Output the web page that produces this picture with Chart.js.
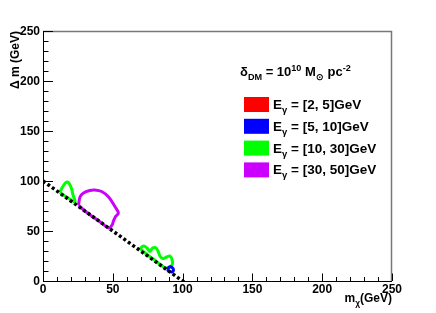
<!DOCTYPE html>
<html>
<head>
<meta charset="utf-8">
<script src="https://cdn.jsdelivr.net/npm/chart.js@4"></script>
<style>
  html, body { margin: 0; padding: 0; background: #fff; }
  #wrap { width: 436px; height: 313px; }
</style>
</head>
<body>
<div id="wrap"><canvas id="c" width="436" height="313"></canvas></div>
<script>
// axis ranges / ticks
const xMajor = [0, 50, 100, 150, 200, 250]
const yMajor = [0, 50, 100, 150, 200, 250]
const minorStep = 10

// kinematic limit m_chi + dm = 100
const limitX = [0, 101]
const limitY = [100, -1]

// contours
const redX = []
const redY = []
const blueX = [89, 90.5, 92.5, 93.5, 92.5, 90.5, 89]
const blueY = [11.5, 14, 13.5, 11, 9, 9.5, 11.5]
const green1X = [12, 14, 16, 17.5, 19, 20.5, 21.5, 23, 18, 12]
const green1Y = [88.5, 94, 98, 99, 97, 92, 86, 79, 83, 88.5]
const green2X = [69.5, 72, 74.5, 76.5, 78.5, 81, 82.5, 84, 86, 88.5, 91, 92.5, 92.5, 88, 80, 74, 69.5]
const green2Y = [32.5, 35, 33, 29.5, 33, 33, 29.5, 24.5, 22.5, 24, 25, 21, 16, 13, 21, 27, 32.5]
const magX = [25.5, 26.5, 29, 33.5, 37, 42, 47, 51.5, 54, 52, 50.5, 49.5, 47, 42, 36, 30, 25.5]
const magY = [76, 84, 88, 90.5, 91, 89.5, 84, 74.5, 68, 64.5, 60, 56, 53, 58, 64, 70, 76]

const legendLabels = ['[2, 5]GeV', '[5, 10]GeV', '[10, 30]GeV', '[30, 50]GeV']
const legendColors = ['#ff0000', '#0000ff', '#00ff00', '#cc00ff']

const pts = (xs, ys) => xs.map((x, i) => ({ x, y: ys[i] }))

const contour = (xs, ys, color) => ({
  data: pts(xs, ys),
  showLine: true,
  borderColor: color,
  borderWidth: 3,
  pointRadius: 0,
  tension: 0.35,
  fill: false,
})

const FONT = '"Liberation Sans", Arial, sans-serif'

// draws runs of [text, 'n' | 'sub' | 'sup'] from x at baseline y
const drawRich = (ctx, runs, x, y, size) => {
  runs.forEach(([t, mode]) => {
    const s = mode === 'n' ? size : size * 0.7
    const dy = mode === 'sub' ? size * 0.3 : mode === 'sup' ? -size * 0.42 : 0
    ctx.font = `bold ${s}px ${FONT}`
    ctx.fillText(t, x, y + dy)
    x += ctx.measureText(t).width
  })
}

const rootFrame = {
  id: 'rootFrame',
  afterDatasetsDraw(chart) {
    const { ctx, chartArea: a, scales } = chart
    const sx = scales.x
    const sy = scales.y
    ctx.save()

    // frame
    ctx.strokeStyle = '#777'
    ctx.lineWidth = 1.5
    ctx.beginPath()
    ctx.moveTo(a.left, a.top + 0.5)
    ctx.lineTo(a.right - 0.5, a.top + 0.5)
    ctx.lineTo(a.right - 0.5, a.bottom)
    ctx.stroke()
    ctx.strokeStyle = '#000'
    ctx.lineWidth = 1
    ctx.beginPath()
    ctx.moveTo(a.left + 0.5, a.top)
    ctx.lineTo(a.left + 0.5, a.bottom + 0.5)
    ctx.lineTo(a.right, a.bottom + 0.5)
    ctx.stroke()

    // inward ticks
    ctx.beginPath()
    for (let v = 0; v <= 250; v += minorStep) {
      const major = v % 50 === 0
      const px = Math.round(sx.getPixelForValue(v)) + 0.5
      ctx.moveTo(px, a.bottom)
      ctx.lineTo(px, a.bottom - (major ? 7.5 : 4))
      const py = Math.round(sy.getPixelForValue(v)) + 0.5
      ctx.moveTo(a.left, py)
      ctx.lineTo(a.left + (major ? 10 : 5.5), py)
    }
    ctx.stroke()

    // tick labels
    ctx.fillStyle = '#000'
    ctx.font = `bold 12px ${FONT}`
    ctx.textAlign = 'center'
    ctx.textBaseline = 'alphabetic'
    xMajor.forEach((v) => ctx.fillText(String(v), sx.getPixelForValue(v), a.bottom + 12))
    ctx.textAlign = 'right'
    ctx.textBaseline = 'middle'
    yMajor.forEach((v) => ctx.fillText(String(v), a.left - 3, sy.getPixelForValue(v) + 1))

    // axis titles
    ctx.textBaseline = 'alphabetic'
    ctx.textAlign = 'left'
    const xt = [['m', 'n'], ['\u03c7', 'sub'], ['(GeV)', 'n']]
    let w = 0
    xt.forEach(([t, m]) => {
      ctx.font = `bold ${m === 'n' ? 12 : 8.4}px ${FONT}`
      w += ctx.measureText(t).width
    })
    drawRich(ctx, xt, a.right - w, 302, 12)

    ctx.save()
    ctx.translate(19, a.top)
    ctx.rotate(-Math.PI / 2)
    ctx.font = `bold 12px ${FONT}`
    ctx.textAlign = 'right'
    ctx.fillText('\u0394 m (GeV)', 0, 0)
    ctx.restore()

    // legend
    ctx.textAlign = 'left'
    drawRich(ctx, [['\u03b4', 'n'], ['DM', 'sub'], [' = 10', 'n'], ['10', 'sup'], [' M', 'n'], ['\u2299', 'sub'], [' pc', 'n'], ['-2', 'sup']], 240, 76, 13)
    legendLabels.forEach((lab, i) => {
      const top = 97 + i * 21.8
      ctx.fillStyle = legendColors[i]
      ctx.fillRect(244, top, 25, 15)
      ctx.fillStyle = '#000'
      drawRich(ctx, [['E', 'n'], ['\u03b3', 'sub'], [' = ' + lab, 'n']], 273, top + 12, 13.5)
    })
    ctx.restore()
  },
}

new Chart(document.getElementById('c').getContext('2d'), {
  type: 'scatter',
  data: {
    datasets: [
      {
        data: pts(limitX, limitY),
        showLine: true,
        borderColor: '#000',
        borderWidth: 3.5,
        borderDash: [3, 2.5],
        pointRadius: 0,
        fill: false,
      },
      contour(redX, redY, legendColors[0]),
      contour(blueX, blueY, legendColors[1]),
      contour(green1X, green1Y, legendColors[2]),
      contour(green2X, green2Y, legendColors[2]),
      contour(magX, magY, legendColors[3]),
    ],
  },
  options: {
    responsive: false,
    animation: false,
    layout: { padding: { left: 43, top: 31, right: 44, bottom: 32 } },
    scales: {
      x: { type: 'linear', min: 0, max: 250, display: false },
      y: { type: 'linear', min: 0, max: 250, display: false },
    },
    plugins: { legend: { display: false }, tooltip: { enabled: false } },
  },
  plugins: [rootFrame],
})
</script>
</body>
</html>
